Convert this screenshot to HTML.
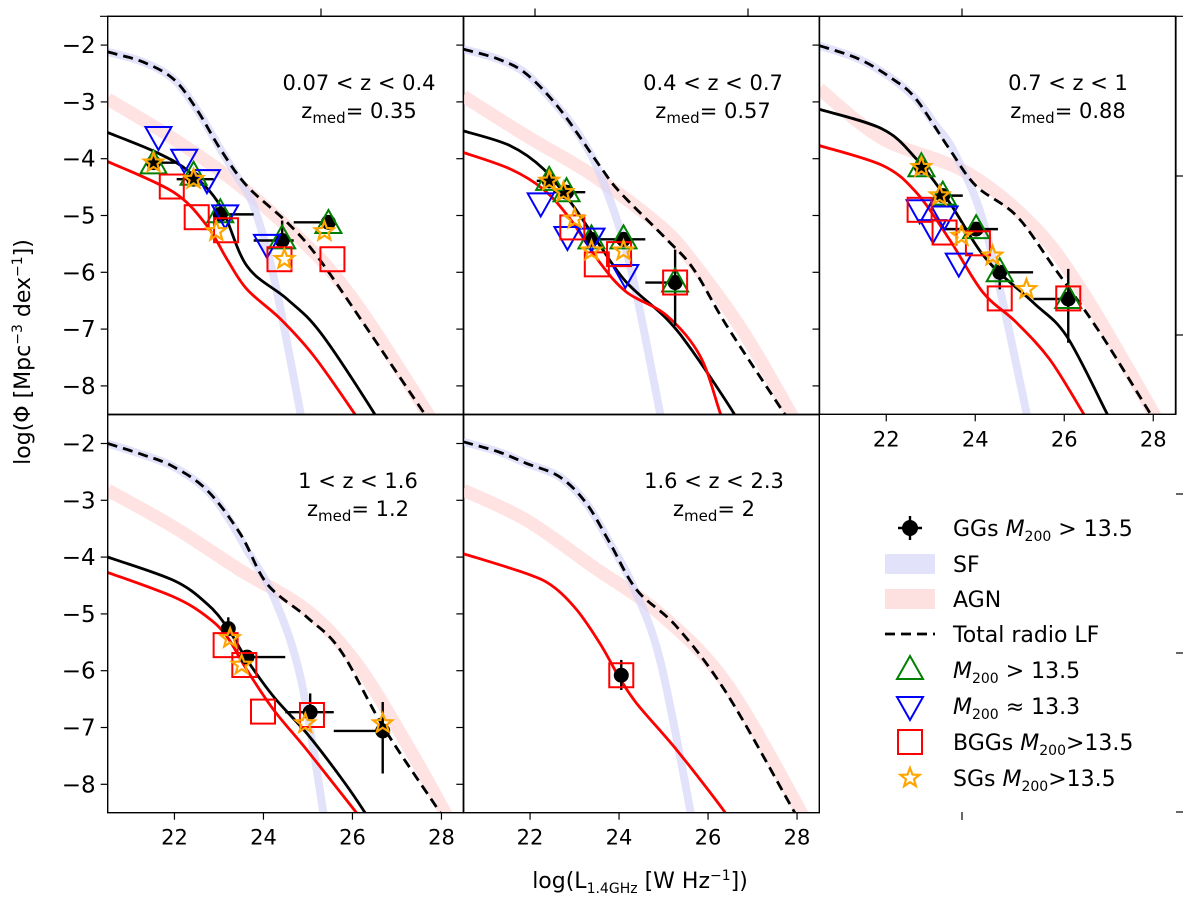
<!DOCTYPE html>
<html><head><meta charset="utf-8"><style>
html,body{margin:0;padding:0;background:#fff;}
svg{display:block;font-family:"DejaVu Sans","Liberation Sans",sans-serif;}
</style></head><body>
<svg id="chart" width="1200" height="901" viewBox="0 0 1200 901" xmlns="http://www.w3.org/2000/svg"></svg>
<script>
// ---------- data (per panel: 0..4) ----------
const xTicks = [22, 24, 26, 28];
const yTicks = [-2, -3, -4, -5, -6, -7, -8];
const panelLabels = ["0.07 < z < 0.4", "0.4 < z < 0.7", "0.7 < z < 1", "1 < z < 1.6", "1.6 < z < 2.3"];
const zMed = ["0.35", "0.57", "0.88", "1.2", "2"];

const totalLF = [
 [[20.5,-2.12],[21.3,-2.3],[21.98,-2.6],[22.5,-3.13],[23.03,-3.83],[23.63,-4.48],[24.53,-5.12],[25.2,-5.71],[26.18,-6.82],[27.6,-8.47],[27.8,-8.7]],
 [[20.5,-2.07],[21.3,-2.25],[21.92,-2.51],[22.67,-3.13],[23.57,-4.13],[24.02,-4.59],[25.07,-5.42],[25.67,-5.94],[26.42,-6.94],[27.7,-8.47],[27.9,-8.7]],
 [[20.5,-2.01],[21.4,-2.25],[22.15,-2.6],[22.67,-2.95],[23.42,-3.83],[24.02,-4.48],[24.92,-5.0],[25.75,-5.89],[26.8,-7.06],[27.92,-8.47],[28.1,-8.7]],
 [[20.5,-2.0],[21.3,-2.2],[21.98,-2.41],[22.73,-2.82],[23.48,-3.59],[24.08,-4.47],[24.98,-5.06],[25.73,-5.64],[26.7,-7.0],[27.98,-8.51],[28.1,-8.7]],
 [[20.5,-1.97],[21.3,-2.15],[21.92,-2.35],[22.67,-2.59],[23.27,-3.06],[23.8,-3.76],[24.4,-4.58],[25.3,-5.23],[26.42,-6.4],[27.92,-8.46],[28.1,-8.7]]
];
const sfLF = [
 [[20.5,-2.12],[21.3,-2.3],[21.98,-2.6],[22.5,-3.13],[23.03,-3.83],[23.4,-4.3],[23.78,-4.84],[24.23,-6.08],[24.83,-8.47],[24.9,-8.8]],
 [[20.5,-2.07],[21.3,-2.25],[21.92,-2.51],[22.67,-3.13],[23.2,-3.7],[23.65,-4.42],[24.25,-5.89],[24.92,-8.47],[25.0,-8.8]],
 [[20.5,-2.01],[21.4,-2.25],[22.15,-2.6],[22.67,-2.95],[23.1,-3.4],[23.57,-3.95],[24.25,-5.3],[25.15,-8.47],[25.2,-8.8]],
 [[20.5,-2.0],[21.3,-2.2],[21.98,-2.41],[22.73,-2.82],[23.2,-3.3],[23.63,-3.88],[24.23,-4.7],[24.83,-6.11],[25.35,-8.51],[25.4,-8.8]],
 [[20.5,-1.97],[21.3,-2.15],[21.92,-2.35],[22.67,-2.59],[23.27,-3.06],[23.8,-3.76],[24.32,-4.52],[24.92,-5.81],[25.6,-8.46],[25.65,-8.8]]
];
const agnLF = [
 [[20.5,-2.95],[21.98,-3.65],[23.48,-4.48],[24.98,-5.53],[25.73,-6.18],[26.48,-7.0],[27.68,-8.47],[27.85,-8.7]],
 [[20.5,-2.9],[21.92,-3.6],[23.42,-4.3],[24.92,-5.18],[25.67,-5.83],[26.8,-7.06],[27.85,-8.47],[28.0,-8.7]],
 [[20.5,-2.77],[21.92,-3.65],[23.8,-4.24],[25.3,-5.18],[26.42,-6.35],[28.0,-8.47],[28.15,-8.7]],
 [[20.5,-2.82],[21.98,-3.47],[23.48,-4.23],[24.98,-4.94],[26.1,-5.88],[27.22,-7.29],[28.09,-8.51],[28.2,-8.7]],
 [[20.5,-2.82],[21.92,-3.35],[23.42,-4.17],[24.92,-5.0],[26.42,-6.23],[28.07,-8.46],[28.2,-8.7]]
];
const ggLF = [
 [[20.5,-3.54],[21.6,-3.89],[22.35,-4.24],[23.03,-4.83],[23.63,-5.89],[24.53,-6.47],[25.28,-7.06],[26.48,-8.47],[26.6,-8.7]],
 [[20.5,-3.51],[21.55,-3.77],[22.3,-4.18],[22.97,-4.83],[23.57,-5.53],[24.17,-6.18],[25.07,-6.82],[25.67,-7.41],[26.57,-8.47],[26.7,-8.7]],
 [[20.5,-3.13],[21.92,-3.48],[22.67,-4.0],[23.42,-4.77],[24.25,-5.77],[25.3,-6.53],[26.05,-7.12],[26.95,-8.47],[27.1,-8.7]],
 [[20.5,-4.0],[21.98,-4.41],[22.73,-4.82],[23.18,-5.23],[23.63,-5.81],[24.23,-6.46],[24.98,-7.11],[25.73,-7.87],[26.29,-8.51],[26.4,-8.7]],
 []
];
const bggLF = [
 [[20.5,-4.05],[21.98,-4.59],[22.73,-5.18],[23.18,-5.77],[23.63,-6.3],[24.38,-6.82],[25.13,-7.47],[26.03,-8.47],[26.2,-8.7]],
 [[20.5,-3.89],[21.55,-4.18],[22.3,-4.54],[22.9,-5.06],[23.57,-5.83],[24.17,-6.35],[25.07,-6.76],[25.82,-7.47],[26.27,-8.47],[26.4,-8.7]],
 [[20.5,-3.77],[21.92,-4.12],[22.67,-4.59],[23.42,-5.42],[24.17,-6.35],[24.92,-6.88],[25.67,-7.53],[26.42,-8.47],[26.6,-8.7]],
 [[20.5,-4.27],[21.98,-4.7],[22.73,-5.05],[23.18,-5.4],[23.63,-5.99],[24.23,-6.69],[24.98,-7.4],[26.1,-8.51],[26.3,-8.7]],
 [[20.5,-3.94],[21.92,-4.29],[22.52,-4.52],[23.05,-4.93],[23.57,-5.52],[24.0,-6.11],[24.4,-6.58],[25.3,-7.4],[26.35,-8.46],[26.5,-8.7]]
];
// GG points: [logL, logPhi, xerrLow, xerrHigh, yerrUp, yerrDown]
const ggPoints = [
 [[21.53,-4.07,0.08,0.5,0,0],[22.43,-4.36,0.38,0.45,0,0],[23.03,-4.98,0.15,0.75,0,0],[24.42,-5.44,0.64,0.26,0.35,0.1],[25.46,-5.12,0.78,0.04,0.1,0.05]],
 [[22.43,-4.39,0.28,0.1,0,0],[22.82,-4.59,0.3,0.42,0,0],[23.38,-5.42,0.1,0.1,0,0],[24.1,-5.42,0.6,0.49,0,0],[25.26,-6.18,0.67,0.0,0.58,0.76]],
 [[22.79,-4.15,0.05,0.05,0,0],[23.27,-4.65,0.05,0.45,0,0],[24.02,-5.24,0.72,0.49,0,0],[24.55,-6.0,0.05,0.75,0.05,0.3],[26.09,-6.47,0.79,0.0,0.53,0.77]],
 [[23.21,-5.26,0.05,0.05,0.2,0.05],[23.63,-5.76,0.05,0.86,0,0],[25.05,-6.73,0.56,0.53,0.33,0.1],[26.68,-7.06,1.1,0.0,0.51,0.75]],
 [[24.05,-6.08,0.02,0.02,0.27,0.26]]
];
const triUp = [
 [[21.53,-4.1],[22.43,-4.3],[23.03,-4.96],[24.42,-5.42],[25.46,-5.15]],
 [[22.43,-4.39],[22.82,-4.59],[23.38,-5.42],[24.1,-5.42],[25.26,-6.18]],
 [[22.79,-4.15],[23.27,-4.65],[24.02,-5.24],[24.55,-6.0],[26.09,-6.47]],
 [], []
];
const triDown = [
 [[21.64,-3.6],[22.22,-4.0],[22.73,-4.36],[23.14,-4.98],[24.08,-5.5]],
 [[22.24,-4.77],[22.84,-5.36],[23.38,-5.39],[24.14,-6.03]],
 [[22.75,-4.89],[23.05,-5.24],[23.31,-5.0],[23.63,-5.83]],
 [], []
];
const bggPoints = [
 [[21.94,-4.49],[22.5,-5.03],[23.16,-5.26],[24.36,-5.77],[25.55,-5.77]],
 [[22.95,-5.21],[23.5,-5.86],[24.0,-5.68],[25.26,-6.18]],
 [[22.75,-4.9],[23.31,-5.3],[24.06,-5.49],[24.55,-6.46],[26.09,-6.46]],
 [[23.15,-5.55],[23.57,-5.9],[23.99,-6.72],[25.09,-6.78]],
 [[24.05,-6.08]]
];
const sgPoints = [
 [[21.53,-4.07],[22.43,-4.36],[22.94,-5.28],[24.47,-5.77],[25.37,-5.28]],
 [[22.43,-4.39],[22.75,-4.59],[23.0,-5.06],[23.38,-5.62],[24.1,-5.62]],
 [[22.79,-4.15],[23.2,-4.65],[23.69,-5.36],[24.39,-5.71],[25.15,-6.3]],
 [[23.25,-5.43],[23.51,-5.9],[24.94,-6.93],[26.68,-6.93]],
 []
];

// ---------- layout ----------
const NS = "http://www.w3.org/2000/svg";
const svg = document.getElementById("chart");
const panels = [
 {x0:107.7, y0:16.3}, {x0:463.3, y0:16.3}, {x0:819.5, y0:16.3},
 {x0:107.7, y0:414.7}, {x0:463.3, y0:414.7}
];
const PW = 356, PH = 398, XMIN = 20.5, XMAX = 28.5, YMIN = -8.5, YMAX = -1.493;
function sx(p, v){ return p.x0 + (v - XMIN) / (XMAX - XMIN) * PW; }
function sy(p, v){ return p.y0 + (YMAX - v) / (YMAX - YMIN) * PH; }
function mk(tag, attrs, parent){
  const e = document.createElementNS(NS, tag);
  for (const k in attrs) e.setAttribute(k, attrs[k]);
  (parent || svg).appendChild(e);
  return e;
}
function smoothPath(pts){
  if (pts.length < 2) return "";
  let d = `M${pts[0][0].toFixed(1)},${pts[0][1].toFixed(1)}`;
  for (let i = 0; i < pts.length - 1; i++){
    const p0 = pts[Math.max(0,i-1)], p1 = pts[i], p2 = pts[i+1], p3 = pts[Math.min(pts.length-1,i+2)];
    const c1x = p1[0] + (p2[0]-p0[0])/6, c1y = p1[1] + (p2[1]-p0[1])/6;
    const c2x = p2[0] - (p3[0]-p1[0])/6, c2y = p2[1] - (p3[1]-p1[1])/6;
    d += ` C${c1x.toFixed(1)},${c1y.toFixed(1)} ${c2x.toFixed(1)},${c2y.toFixed(1)} ${p2[0].toFixed(1)},${p2[1].toFixed(1)}`;
  }
  return d;
}
function curve(g, p, data, stroke, width, name, dash, opacity){
  if (!data.length) return;
  const pts = data.map(d => [sx(p,d[0]), sy(p,d[1])]);
  const el = mk("path", {d: smoothPath(pts), fill:"none", stroke:stroke, "stroke-width":width, "stroke-linejoin":"round"}, g);
  if (dash) el.setAttribute("stroke-dasharray", dash);
  if (opacity) el.setAttribute("stroke-opacity", opacity);
  
  
}
function starPath(cx, cy, R){
  const r = R * 0.42; let d = "";
  for (let i = 0; i < 10; i++){
    const a = -Math.PI/2 + i*Math.PI/5, rr = i%2 ? r : R;
    d += (i ? "L" : "M") + (cx + rr*Math.cos(a)).toFixed(1) + "," + (cy + rr*Math.sin(a)).toFixed(1);
  }
  return d + "Z";
}

// outer (overlay) axis ticks
const outer = mk("g", {});


mk("line", {x1:100, y1:16.3, x2:1183, y2:16.3, stroke:"#000", "stroke-width":1.2}, outer);
[321, 535, 748, 962].forEach(x => mk("line", {x1:x, y1:8.5, x2:x, y2:16.3, stroke:"#000", "stroke-width":1.2}, outer));
[176, 335, 494, 653, 812].forEach(y => mk("line", {x1:1176, y1:y, x2:1183, y2:y, stroke:"#000", "stroke-width":1.2}, outer));
mk("line", {x1:1176, y1:16.3, x2:1176, y2:414.7, stroke:"#000", "stroke-width":1.2}, outer);
mk("line", {x1:962, y1:812, x2:962, y2:820, stroke:"#000", "stroke-width":1.2}, outer);

const defs = mk("defs", {});
panels.forEach((p, i) => {
  const g = mk("g", {});
  
  
  const cp = mk("clipPath", {id:"clip"+i}, defs);
  mk("rect", {x:p.x0, y:p.y0, width:PW, height:PH}, cp);
  const inner = mk("g", {"clip-path":`url(#clip${i})`}, g);
  curve(inner, p, agnLF[i], "#ffd6d6", 13, "agn-band", null, 0.7);
  curve(inner, p, sfLF[i], "#d6d6fa", 8, "sf-band", null, 0.7);
  curve(inner, p, ggLF[i], "#000", 2.8, "gg-lf-line");
  curve(inner, p, bggLF[i], "#ff0000", 2.8, "bgg-lf-line");
  curve(inner, p, totalLF[i], "#000", 2.8, "total-radio-lf-line", "10,6");
  ggPoints[i].forEach(d => {
    const cx = sx(p,d[0]), cy = sy(p,d[1]);
    const gp = mk("g", {}, inner);
    
    
    mk("line", {x1:sx(p,d[0]-d[2]), y1:cy, x2:sx(p,d[0]+d[3]), y2:cy, stroke:"#000", "stroke-width":2.4}, gp);
    mk("line", {x1:cx, y1:sy(p,d[1]+d[4]), x2:cx, y2:sy(p,d[1]-d[5]), stroke:"#000", "stroke-width":2.4}, gp);
    mk("circle", {cx:cx, cy:cy, r:7.5, fill:"#000"}, gp);
  });
  triUp[i].forEach(d => {
    const cx = sx(p,d[0]), cy = sy(p,d[1]);
    const t = mk("path", {d:`M${cx},${cy-14}L${cx+13},${cy+9}L${cx-13},${cy+9}Z`, fill:"none", stroke:"#008000", "stroke-width":2}, inner);
    
    
  });
  triDown[i].forEach(d => {
    const cx = sx(p,d[0]), cy = sy(p,d[1]);
    const t = mk("path", {d:`M${cx},${cy+14}L${cx+13},${cy-9}L${cx-13},${cy-9}Z`, fill:"none", stroke:"#0000ff", "stroke-width":2}, inner);
    
    
  });
  bggPoints[i].forEach(d => {
    const cx = sx(p,d[0]), cy = sy(p,d[1]);
    const s = mk("rect", {x:cx-12, y:cy-12, width:24, height:24, fill:"none", stroke:"#ff0000", "stroke-width":2}, inner);
    
    
  });
  sgPoints[i].forEach(d => {
    const cx = sx(p,d[0]), cy = sy(p,d[1]);
    const s = mk("path", {d:starPath(cx, cy, 10), fill:"none", stroke:"#ffa500", "stroke-width":2.2}, inner);
    
    
  });
  const fr = mk("rect", {x:p.x0, y:p.y0, width:PW, height:PH, fill:"none", stroke:"#000", "stroke-width":1.4}, g);
  
  
  yTicks.forEach(v => {
    const y = sy(p, v);
    mk("line", {x1:p.x0-7, y1:y, x2:p.x0, y2:y, stroke:"#000", "stroke-width":1.2}, g);
    if (i === 0 || i === 3){
      const t = mk("text", {x:p.x0-12, y:y+8, "text-anchor":"end", "font-size":23, fill:"#000"}, g);
      t.textContent = "\u2212" + Math.abs(v);
      
      
    }
  });
  if (i >= 2){
    xTicks.forEach(v => {
      const x = sx(p, v), yb = p.y0 + PH;
      mk("line", {x1:x, y1:yb, x2:x, y2:yb+7, stroke:"#000", "stroke-width":1.2}, g);
      const t = mk("text", {x:x, y:yb+32, "text-anchor":"middle", "font-size":21, fill:"#000"}, g);
      t.textContent = v;
      
      
    });
  }
  const cxText = [359, 713, 1068, 358, 714][i];
  const ty = (i < 3) ? 90 : 488;
  const t1 = mk("text", {x:cxText, y:ty, "text-anchor":"middle", "font-size":21, fill:"#000"}, g);
  t1.textContent = panelLabels[i];
  
  
  const t2 = mk("text", {x:cxText, y:ty+28, "text-anchor":"middle", "font-size":21, fill:"#000"}, g);
  t2.innerHTML = `z<tspan font-size="15" dy="5">med</tspan><tspan dy="-5">= ${zMed[i]}</tspan>`;
  
  
});

const yt = mk("text", {x:0, y:0, "text-anchor":"middle", "font-size":22, fill:"#000", transform:"translate(30,352) rotate(-90)"});
yt.innerHTML = `log(\u03A6 [Mpc<tspan font-size="14" dy="-8">\u22123</tspan><tspan dy="8"> dex</tspan><tspan font-size="14" dy="-8">\u22121</tspan><tspan dy="8">])</tspan>`;


const xt = mk("text", {x:640, y:888, "text-anchor":"middle", "font-size":22, fill:"#000"});
xt.innerHTML = `log(L<tspan font-size="14" dy="5">1.4GHz</tspan><tspan dy="-5"> [W Hz</tspan><tspan font-size="14" dy="-8">\u22121</tspan><tspan dy="8">])</tspan>`;



const legend = mk("g", {});


const legY = [528, 564, 599, 634, 670, 706, 742, 778];
const legText = [
 `GGs <tspan font-style="italic">M</tspan><tspan font-size="14" dy="5">200</tspan><tspan dy="-5"> &gt; 13.5</tspan>`,
 `SF`, `AGN`, `Total radio LF`,
 `<tspan font-style="italic">M</tspan><tspan font-size="14" dy="5">200</tspan><tspan dy="-5"> &gt; 13.5</tspan>`,
 `<tspan font-style="italic">M</tspan><tspan font-size="14" dy="5">200</tspan><tspan dy="-5"> \u2248 13.3</tspan>`,
 `BGGs <tspan font-style="italic">M</tspan><tspan font-size="14" dy="5">200</tspan><tspan dy="-5">&gt;13.5</tspan>`,
 `SGs <tspan font-style="italic">M</tspan><tspan font-size="14" dy="5">200</tspan><tspan dy="-5">&gt;13.5</tspan>`
];
const LX = 910;
legY.forEach((y, k) => {
  const e = mk("g", {}, legend);
  
  
  if (k === 0){
    mk("line", {x1:LX-12, y1:y, x2:LX+12, y2:y, stroke:"#000", "stroke-width":2.4}, e);
    mk("line", {x1:LX, y1:y-12, x2:LX, y2:y+12, stroke:"#000", "stroke-width":2.4}, e);
    mk("circle", {cx:LX, cy:y, r:8, fill:"#000"}, e);
  } else if (k === 1){
    mk("rect", {x:LX-25, y:y-10, width:50, height:20, fill:"#e2e2fb"}, e);
  } else if (k === 2){
    mk("rect", {x:LX-25, y:y-10, width:50, height:20, fill:"#fde1e1"}, e);
  } else if (k === 3){
    mk("line", {x1:LX-25, y1:y, x2:LX+25, y2:y, stroke:"#000", "stroke-width":2.8, "stroke-dasharray":"10,6"}, e);
  } else if (k === 4){
    mk("path", {d:`M${LX},${y-14}L${LX+13},${y+9}L${LX-13},${y+9}Z`, fill:"none", stroke:"#008000", "stroke-width":2}, e);
  } else if (k === 5){
    mk("path", {d:`M${LX},${y+14}L${LX+13},${y-9}L${LX-13},${y-9}Z`, fill:"none", stroke:"#0000ff", "stroke-width":2}, e);
  } else if (k === 6){
    mk("rect", {x:LX-12, y:y-12, width:24, height:24, fill:"none", stroke:"#ff0000", "stroke-width":2}, e);
  } else {
    mk("path", {d:starPath(LX, y, 10), fill:"none", stroke:"#ffa500", "stroke-width":2.2}, e);
  }
  const t = mk("text", {x:953, y:y+8, "font-size":22, fill:"#000"}, e);
  t.innerHTML = legText[k];
});
</script>
</body></html>
